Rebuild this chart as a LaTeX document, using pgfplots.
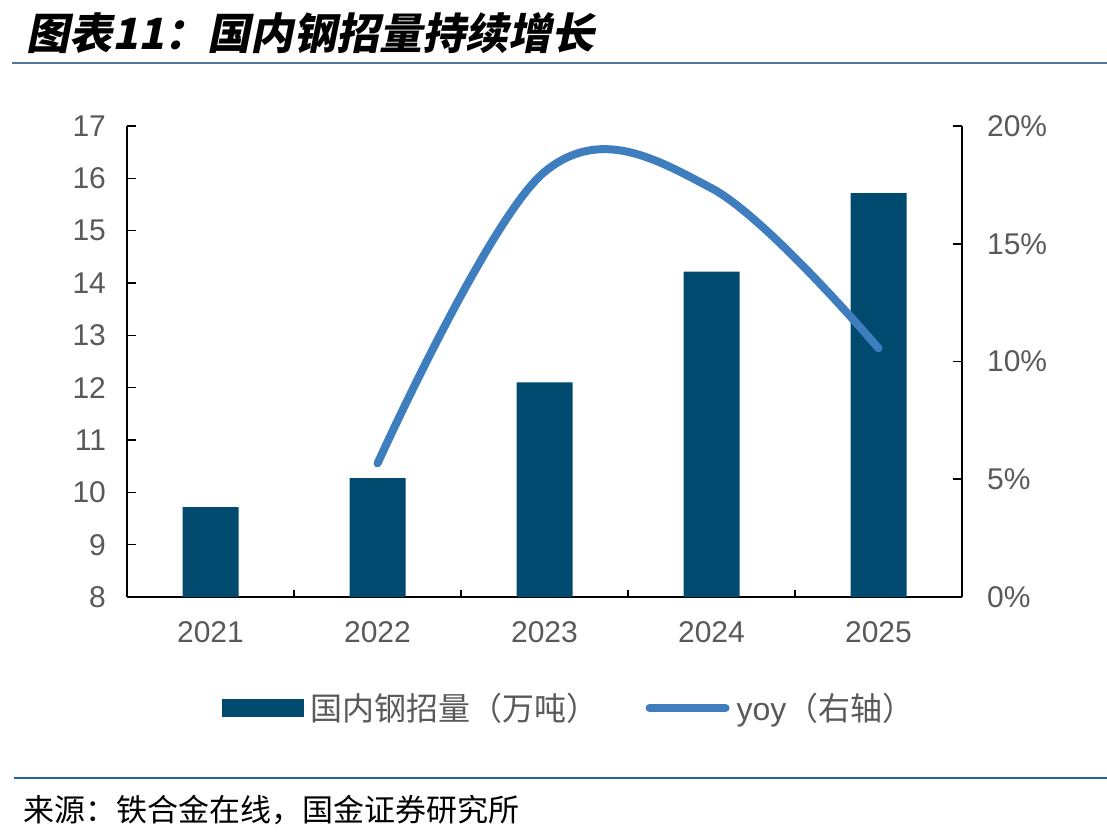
\documentclass[border=0pt]{standalone}
\usepackage{pgfplots}
\pgfplotsset{compat=1.18}
\usepackage{fontspec}
\setmainfont{Liberation Sans}
\newfontfamily\cjk{Noto Sans CJK SC}
\newfontfamily\cjktitle[FakeSlant=0.2]{Noto Sans CJK SC}
\definecolor{barcol}{RGB}{0,74,112}
\definecolor{linecol}{RGB}{62,126,190}
\definecolor{labgray}{RGB}{89,89,89}
\definecolor{topline}{RGB}{80,120,150}
\definecolor{botline}{RGB}{40,100,145}
\begin{document}
\begin{tikzpicture}
\path[use as bounding box] (0,0) rectangle (553.5pt,-418.5pt);
\node[anchor=west,inner sep=0pt] at (13pt,-16.5pt) {\fontsize{21.5}{24}\selectfont\cjktitle\bfseries 图表11：国内钢招量持续增长};
\draw[topline, line width=0.6pt] (6pt,-31.5pt) -- (553.5pt,-31.5pt);
\draw[botline, line width=0.6pt] (7pt,-389pt) -- (553.5pt,-389pt);
\node[anchor=west,inner sep=0pt] at (11.5pt,-405pt) {\fontsize{15.5}{17}\selectfont\cjk 来源：铁合金在线，国金证券研究所};

\begin{axis}[
  at={(63.5pt,-298.5pt)}, anchor=south west,
  scale only axis, width=417.5pt, height=235.5pt,
  xmin=-0.5, xmax=4.5, ymin=8, ymax=17,
  axis y line*=left, axis x line*=bottom,
  axis line style={black, line width=0.8pt},
  ytick={8,9,...,17},
  xtick={0,1,2,3,4},
  xticklabels={2021,2022,2023,2024,2025},
  minor xtick={-0.5,0.5,1.5,2.5,3.5,4.5},
  tick align=inside,
  major tick length=4.5pt,
  minor tick length=3.5pt,
  x tick style={draw=none},
  minor x tick style={draw=black, line width=0.8pt},
  y tick style={black, line width=0.8pt},
  tick label style={font=\fontsize{15}{15}\selectfont, text=labgray},
  /pgf/number format/assume math mode=true,
  yticklabel style={xshift=-7pt},
  xticklabel style={yshift=-8.5pt},
]
\addplot[ybar, bar width=28pt, fill=barcol, draw=none] coordinates {(0,9.72) (1,10.27) (2,12.1) (3,14.22) (4,15.72)};
\end{axis}

\begin{axis}[
  at={(63.5pt,-298.5pt)}, anchor=south west,
  scale only axis, width=417.5pt, height=235.5pt,
  xmin=-0.5, xmax=4.5, ymin=0, ymax=20,
  axis y line*=right, axis x line=none,
  axis line style={black, line width=0.8pt},
  ytick={0,5,10,15,20},
  yticklabels={0\%,5\%,10\%,15\%,20\%},
  tick align=inside,
  major tick length=4.5pt,
  y tick style={black, line width=0.8pt},
  tick label style={font=\fontsize{15}{15}\selectfont, text=labgray},
  yticklabel style={xshift=9pt},
  legend columns=2,
  legend style={at={(0.113,-0.2357)}, anchor=west, draw=none, fill=none, inner sep=0pt,
    font=\fontsize{16}{16}\selectfont, text=labgray,
    /tikz/every even column/.append style={column sep=20pt},
    nodes={inner sep=3.5pt}},
]
\addlegendimage{legend image code/.code={\fill[barcol] (0pt,-4.25pt) rectangle (40.5pt,4.25pt);}}
\addlegendentry{\cjk 国内钢招量（万吨）}
\addplot[linecol, line width=4pt, line cap=round, smooth, tension=0.6, mark=none,
  legend image code/.code={\draw[linecol, line width=4pt, line cap=round] (2pt,0pt) -- (40pt,0pt);}]
  coordinates {(1,5.67) (2,18.05) (3,17.36) (4,10.56)};
\addlegendentry{yoy{\cjk （右轴）}}
\end{axis}
\end{tikzpicture}
\end{document}
